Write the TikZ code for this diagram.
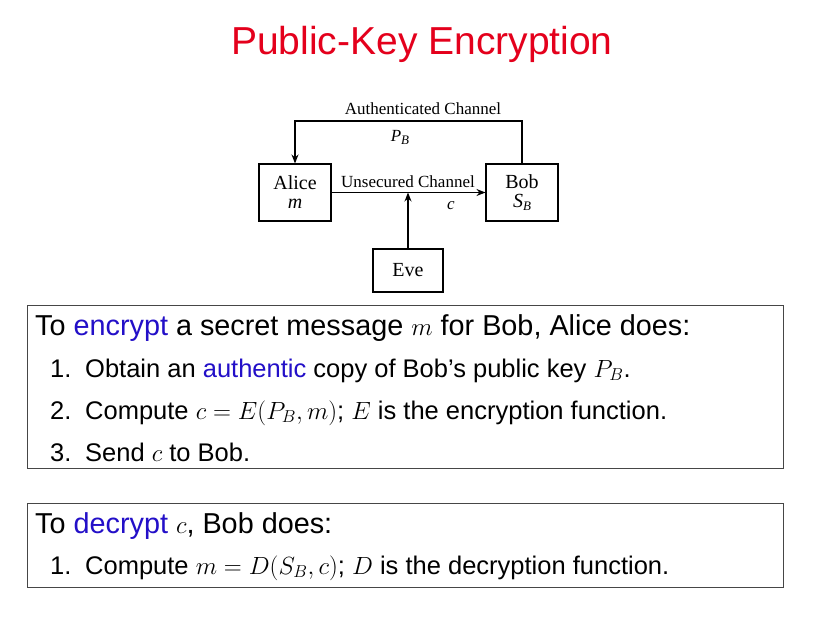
\documentclass[tikz,border=0pt]{standalone}
\usepackage[no-math]{fontspec}
\setmainfont{Liberation Sans}
\newfontfamily\diagfont{Liberation Serif}
\usetikzlibrary{arrows.meta}
\definecolor{titlered}{RGB}{228,0,28}
\definecolor{kwblue}{RGB}{35,15,200}
\definecolor{boxgray}{RGB}{70,70,70}
\tikzset{
  party/.style={draw=black, line width=1.1pt, font=\diagfont\fontsize{20}{20}\selectfont, align=center, inner sep=0pt},
  chan/.style={line width=1.1pt, -{Stealth[length=9pt,width=7pt]}},
  dlabel/.style={font=\diagfont\fontsize{17}{19}\selectfont, inner sep=0pt},
  textbox/.style={draw=boxgray, line width=0.9pt},
  head/.style={anchor=base west, inner sep=0pt, font=\fontsize{28.8}{30}\selectfont},
  item/.style={anchor=base west, inner sep=0pt, font=\fontsize{25.5}{28}\selectfont},
}
\newcommand{\subB}{\raisebox{-3.5pt}{\fontsize{13}{13}\selectfont\textit{B}}}
\begin{document}
\begin{tikzpicture}[x=1pt,y=-1pt]
\useasboundingbox (0,0) rectangle (822,632);
\fill[white] (0,0) rectangle (822,632);
\node[anchor=base, inner sep=0pt, text=titlered, font=\fontsize{39}{40}\selectfont] (title) at (422,54) {Public-Key Encryption};

% diagram
\node[party, minimum width=72pt, minimum height=57pt] (alice) at (295,192.5) {Alice\\[-1pt]\textit{m}};
\node[party, minimum width=72pt, minimum height=57pt] (bob) at (522,192.5) {Bob\\[-1pt]\textit{S}\subB};
\node[party, minimum width=70pt, minimum height=43pt] (eve) at (408,270.5) {Eve};
\coordinate (top) at (522,121);
\draw[chan] (bob.north) -- (top) -| (alice.north);
\draw[chan] (alice.east) -- (bob.west);
\draw[chan] (eve.north) -- (eve.north |- alice.east);
\node[dlabel, anchor=base] (auth) at (423,114) {Authenticated Channel};
\node[dlabel, anchor=base] (pb) at (400,141) {\textit{P}\subB};
\node[dlabel, anchor=base] (unsec) at (408,187) {Unsecured Channel};
\node[dlabel, anchor=base] (clab) at (451,209) {\textit{c}};

% text boxes
\draw[textbox] (27,305) rectangle (783,468);
\node[head] (h1) at (35,335) {To \textcolor{kwblue}{encrypt} a secret message $m$ for Bob, Alice does:};
\node[item] (i1n) at (50,377) {1.};
\node[item] (i1) at (85,377) {Obtain an \textcolor{kwblue}{authentic} copy of Bob's public key $P_B$.};
\node[item] (i2n) at (50,419) {2.};
\node[item] (i2) at (85,419) {Compute $c=E(P_B,m)$; $E$ is the encryption function.};
\node[item] (i3n) at (50,461) {3.};
\node[item] (i3) at (85,461) {Send $c$ to Bob.};

\draw[textbox] (27,503) rectangle (783,587);
\node[head] (h2) at (35,533) {To \textcolor{kwblue}{decrypt} $c$, Bob does:};
\node[item] (j1n) at (50,574) {1.};
\node[item] (j1) at (85,574) {Compute $m=D(S_B,c)$; $D$ is the decryption function.};
\end{tikzpicture}
\end{document}
